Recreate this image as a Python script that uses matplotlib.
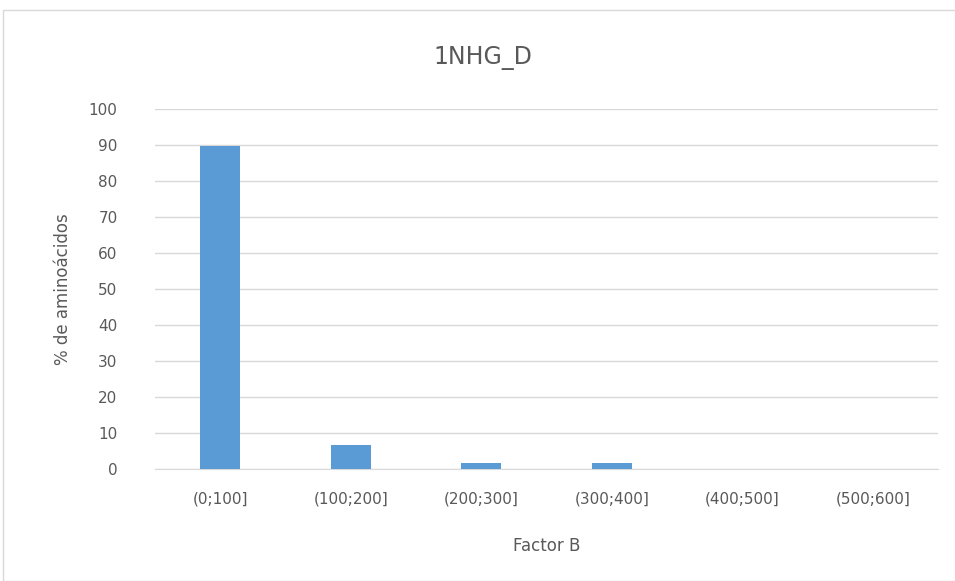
import matplotlib.pyplot as plt
from matplotlib.patches import Rectangle

categories = ['(0;100]', '(100;200]', '(200;300]', '(300;400]', '(400;500]', '(500;600]']
values = [89.7, 6.7, 1.7, 1.7, 0, 0]

W, H = 955, 581
fig = plt.figure(figsize=(W / 100, H / 100), dpi=100)
fig.patches.append(Rectangle((3 / W, 0), 1, 1 - 10 / H, transform=fig.transFigure,
                             fill=False, edgecolor='#d9d9d9', linewidth=1))

ax = fig.add_axes([155 / W, 1 - 469 / H, (938 - 155) / W, (469 - 109) / H])
x = range(len(categories))
ax.bar(x, values, width=0.31, color='#5b9bd5', zorder=3)

ax.set_xlim(-0.5, len(categories) - 0.5)
ax.set_ylim(0, 100)
ax.set_yticks(range(0, 101, 10))
ax.set_xticks(list(x))
ax.set_xticklabels(categories)
ax.grid(axis='y', color='#d9d9d9', linewidth=1, zorder=0)
for s in ['top', 'right', 'left']:
    ax.spines[s].set_visible(False)
ax.spines['bottom'].set_color('#d9d9d9')
ax.tick_params(length=0, colors='#595959', labelsize=11)
ax.tick_params(axis='x', pad=16)
ax.tick_params(axis='y', pad=27)

ax.set_xlabel('Factor B', fontsize=12, color='#595959', labelpad=22)
ax.set_ylabel('% de aminoácidos', fontsize=12, color='#595959', labelpad=12)
fig.text(483 / W, 1 - 58 / H, '1NHG_D', fontsize=17, color='#595959',
         ha='center', va='center')

fig.savefig('out.png', dpi=100)
